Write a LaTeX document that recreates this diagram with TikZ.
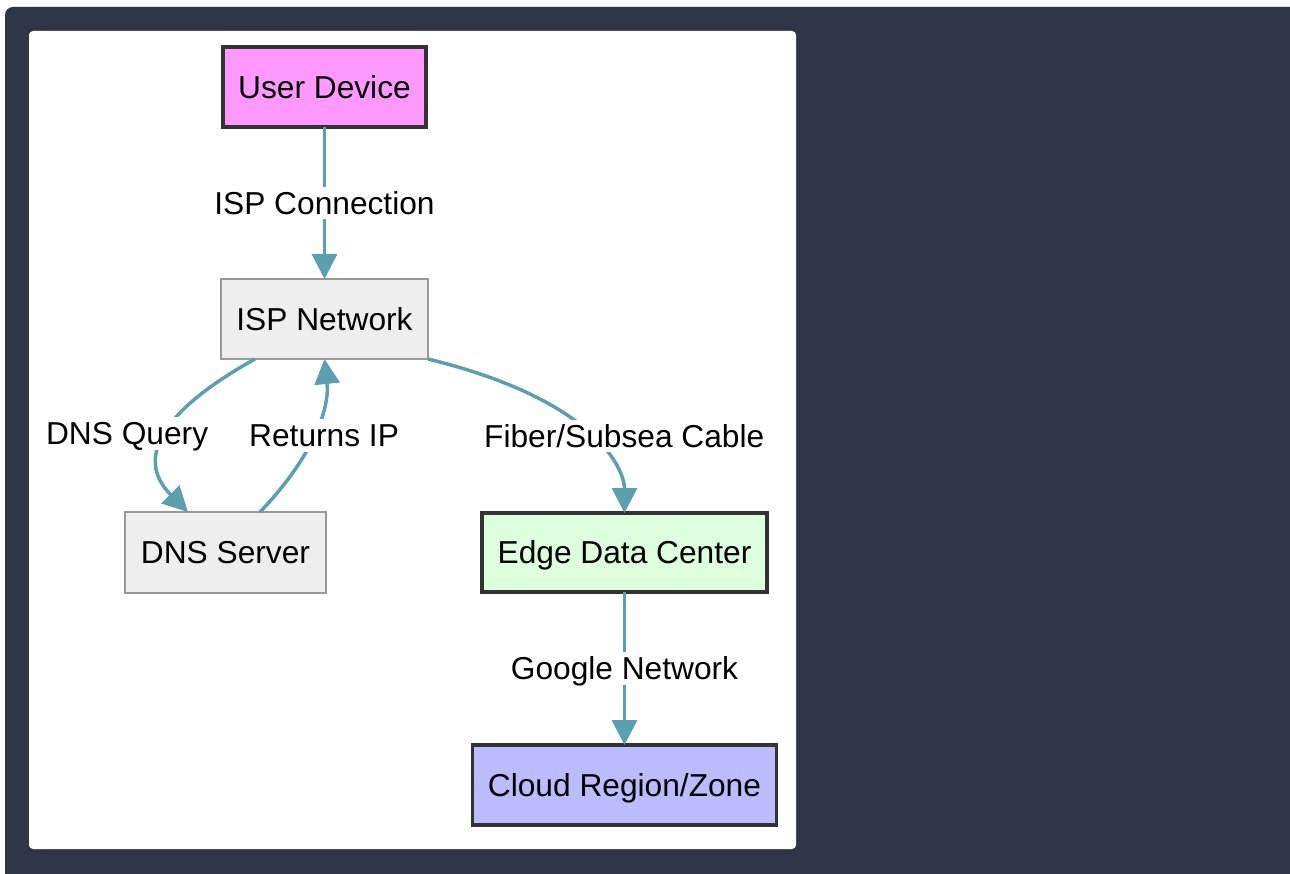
\documentclass[tikz,border=0pt]{standalone}
\usepackage{fontspec}
\setmainfont{Liberation Sans}
\usepackage{tikz}
\usetikzlibrary{arrows.meta,shapes,positioning,calc}
\usepackage{xcolor}
\definecolor{bgdark}{RGB}{46,54,72}
\definecolor{linkteal}{RGB}{92,160,176}
\definecolor{boxgrey}{RGB}{238,238,238}
\definecolor{linegrey}{RGB}{153,153,153}
\definecolor{linedark}{RGB}{51,51,51}
\definecolor{devpink}{RGB}{255,153,255}
\definecolor{edgegreen}{RGB}{221,255,221}
\definecolor{cloudblue}{RGB}{187,187,255}
\tikzstyle{plainbox} = [rectangle, minimum height=80pt, text centered, text height=22.7pt, text depth=0pt, draw=linegrey, fill=boxgrey, line width=2pt, outer sep=0pt, font=\fontsize{31.7}{38}\selectfont]
\tikzstyle{keybox} = [plainbox, draw=linedark, line width=3.5pt]
\tikzstyle{link} = [line width=3.5pt,->,>={Triangle[length=25pt,width=25pt]},color=linkteal]
\tikzstyle{linklabel} = [fill=white, inner xsep=2pt, inner ysep=5pt, text height=22.7pt, text depth=0pt, text=black, font=\fontsize{31.7}{38}\selectfont]

\begin{document}
\begin{tikzpicture}[x=1pt,y=-1pt]
\useasboundingbox (0,0) rectangle (1290,874);
\clip (0,0) rectangle (1290,874);
\fill[white] (0,0) rectangle (1290,874);
\fill[bgdark, rounded corners=8pt] (5,7) rectangle (1310,900);
\fill[white, rounded corners=4pt] (29,31) rectangle (796,849);

\node[keybox, fill=devpink, minimum width=203pt, minimum height=80pt] (user) at (324.5,87) {User Device};
\node[plainbox, minimum width=207pt, below=152pt of user] (isp) {ISP Network};
\node[plainbox, minimum width=201pt, minimum height=81pt] (dns) at (225.5,552.5) {DNS Server};
\node[keybox, fill=edgegreen, minimum width=285pt, minimum height=79pt] (edge) at (624.5,552.5) {Edge Data Center};
\node[keybox, fill=cloudblue, minimum width=304pt, minimum height=80pt, below=153pt of edge] (cloud) {Cloud Region/Zone};

\draw[link] (user) -- node[linklabel] {ISP Connection} (isp);
\draw[link] ([xshift=34pt]isp.south west) .. controls +(-90,50) and +(-55,-55) .. node[linklabel, xshift=-40pt] {DNS Query} ([xshift=63pt]dns.north west);
\draw[link] ([xshift=135pt]dns.north west) .. controls +(50,-52) and +(5.5,52) .. node[linklabel, xshift=11pt] {Returns IP} (isp.south);
\draw[link] (isp.south east) .. controls +(170.7,41.7) and +(0,-42) .. node[linklabel, xshift=34pt] {Fiber/Subsea Cable} (edge.north);
\draw[link] (edge) -- node[linklabel] {Google Network} (cloud);
\end{tikzpicture}
\end{document}
